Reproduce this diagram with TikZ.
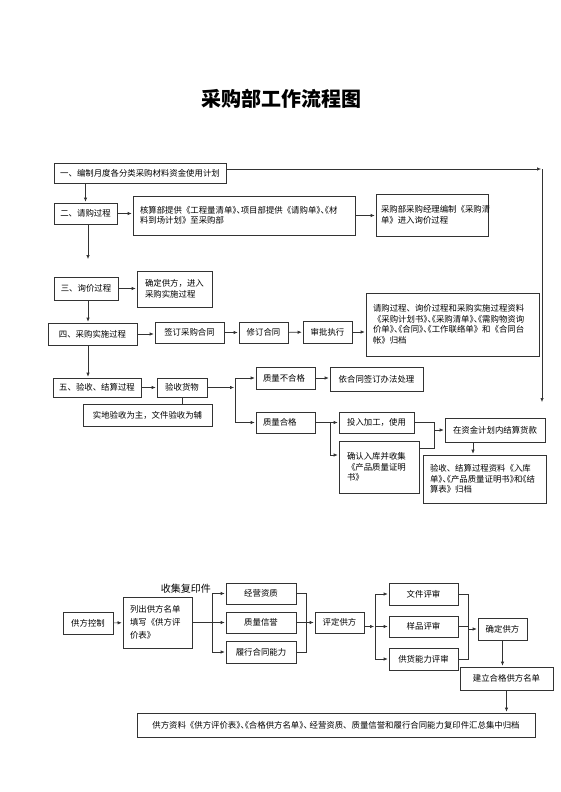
\documentclass[tikz,border=0pt]{standalone}
\usepackage{fontspec}
\usepackage{tikz}
\usetikzlibrary{positioning,arrows.meta}
\newfontfamily\cjk{Noto Sans CJK SC}
\newfontfamily\cjkhw[RawFeature=+halt]{Noto Sans CJK SC}
\newcommand{\hw}[1]{{\cjkhw #1}}

\begin{document}
\begin{tikzpicture}[x=1pt,y=-1pt]
\tikzstyle{every node}+=[inner sep=0pt]
\tikzstyle{box}=[draw=black!80, line width=0.6pt, fill=white, font=\cjk\fontsize{8.4}{10.5}\selectfont, align=center]
\tikzstyle{para}=[box, align=left, inner xsep=7pt]
\tikzstyle{line}=[draw=black!80, line width=0.6pt]
\tikzstyle{arr}=[line, -{Latex[length=4pt,width=3.4pt]}, shorten >=1pt]
\useasboundingbox (0,0) rectangle (560,792);
\node[font=\cjk\bfseries\fontsize{20}{24}\selectfont] (title) at (281,99) {采购部工作流程图};
% purchasing steps
\node[box, minimum width=172pt, minimum height=20pt] (plan) at (140,173) {一、编制月度各分类采购材料资金使用计划};
\node[box, minimum width=63pt, minimum height=21pt] (req) at (85.5,213.5) {二、请购过程};
\node[para, text width=208pt, minimum height=39pt] (calc) at (244,215.5) {核算部提供《工程量清单\hw{》、}项目部提供《请购单\hw{》、《}材\\料到场计划》至采购部};
\node[para, inner xsep=5pt, text width=102pt, minimum height=42pt] (mgr) at (432,215) {采购部采购经理编制《采购清\\单》进入询价过程};
\node[box, minimum width=64pt, minimum height=23pt] (inq) at (86,288.5) {三、询价过程};
\node[para, inner xsep=8pt, text width=59pt, minimum height=36pt] (conf) at (174.5,289) {确定供方，进入\\采购实施过程};
\node[box, minimum width=89pt, minimum height=22pt] (impl) at (92.5,334) {四、采购实施过程};
\node[box, minimum width=69pt, minimum height=21pt] (sign) at (189.5,332.5) {签订采购合同};
\node[box, minimum width=49pt, minimum height=21pt] (rev) at (263.5,332.5) {修订合同};
\node[box, minimum width=49pt, minimum height=22pt] (appr) at (327.5,332) {审批执行};
\node[para, text width=159pt, minimum height=63pt] (arch) at (452.5,324.5) {请购过程、询价过程和采购实施过程资料\\《采购计划书\hw{》、《}采购清单\hw{》、《}需购物资询\\价单\hw{》、《}合同\hw{》、《}工作联络单》和《合同台\\帐》归档};
\node[box, minimum width=88pt, minimum height=19pt] (recv) at (97,387.5) {五、验收、结算过程};
\node[box, minimum width=50pt, minimum height=19pt] (goods) at (182,387.5) {验收货物};
\node[box, minimum width=129pt, minimum height=22pt] (onsite) at (147.5,415) {实地验收为主，文件验收为辅};
\node[para, text width=45pt, minimum height=22pt] (bad) at (285.5,378) {质量不合格};
\node[box, minimum width=93pt, minimum height=24pt] (handle) at (376.5,379) {依合同签订办法处理};
\node[para, text width=45pt, minimum height=21pt] (good) at (285.5,422.5) {质量合格};
\node[box, minimum width=75pt, minimum height=21pt] (use) at (376.5,422.5) {投入加工，使用};
\node[para, inner xsep=8pt, text width=64pt, minimum height=52pt] (stock) at (379,467) {确认入库并收集\\《产品质量证明\\书》};
\node[box, minimum width=100pt, minimum height=24pt] (pay) at (495,430) {在资金计划内结算货款};
\node[para, text width=109pt, minimum height=48pt] (settle) at (484.5,479) {验收、结算过程资料《入库\\单\hw{》、《}产品质量证明书\hw{》}和\hw{《}结\\算表》归档};
% supplier control
\node[box, minimum width=50pt, minimum height=22pt] (ctrl) at (88,623) {供方控制};
\node[para, text width=55pt, minimum height=51pt, font=\cjk\fontsize{8.4}{13}\selectfont] (list) at (157.5,622.5) {列出供方名单\\填写《供方评\\价表》};
\node[box, minimum width=70pt, minimum height=21pt] (qual1) at (261,593.5) {经营资质};
\node[box, minimum width=70pt, minimum height=21pt] (qual2) at (261,622.5) {质量信誉};
\node[box, minimum width=70pt, minimum height=22pt] (qual3) at (261,652) {履行合同能力};
\node[font=\cjk\fontsize{10}{12}\selectfont, anchor=east] (copy) at (211,589) {收集复印件};
\node[box, minimum width=49pt, minimum height=21pt] (eval) at (339.5,622.5) {评定供方};
\node[box, minimum width=69pt, minimum height=22pt] (doc) at (423.5,594) {文件评审};
\node[box, minimum width=69pt, minimum height=21pt] (samp) at (423.5,626.5) {样品评审};
\node[box, minimum width=69pt, minimum height=22pt] (cap) at (423.5,659) {供货能力评审};
\node[box, minimum width=49pt, minimum height=22pt] (pick) at (502.5,629) {确定供方};
\node[box, minimum width=93pt, minimum height=23pt] (qlist) at (506.5,678.5) {建立合格供方名单};
\node[box, minimum width=398pt, minimum height=24pt] (file) at (336,725) {供方资料《供方评价表\hw{》、《}合格供方名单\hw{》、} 经营资质、质量信誉和履行合同能力复印件汇总集中归档};
% junctions
\coordinate (tr) at (542,169);
\coordinate (trend) at (542,403);
\coordinate (inqtop) at (88,260);
\coordinate (qj) at (235,387.5);
\coordinate (gj) at (330,422.5);
\coordinate (sj) at (330,455);
\coordinate (pj) at (434,430);
\coordinate (pjb) at (434,448);
\coordinate (stx) at (473,0);
\coordinate (cj) at (212,622.5);
\coordinate (ej) at (306,622.5);
\coordinate (sj2) at (375,626.5);
\coordinate (kj) at (468,629);
% connectors
\draw[arr] (plan.east |- tr) -- (tr);
\draw[arr] (tr) -- (trend);
\draw[arr] (plan.south -| req.north) -- (req.north);
\draw[arr] (req.east) -- (req.east -| calc.west);
\draw[arr] (calc.east) -- (calc.east -| mgr.west);
\draw[arr] (req.south -| inqtop) -- (inqtop);
\draw[arr] (inq.east) -- (inq.east -| conf.west);
\draw[arr] (inq.south -| inqtop) -- (impl.north -| inqtop);
\draw[arr] (impl.east) -- (impl.east -| sign.west);
\draw[arr] (sign) -- (rev);
\draw[arr] (rev) -- (appr);
\draw[arr] (appr.east) -- (appr.east -| arch.west);
\draw[arr] (impl.south -| inqtop) -- (recv.north -| inqtop);
\draw[arr] (recv) -- (goods);
\draw[line] (goods.south) -- (goods.south |- onsite.north);
\draw[arr] (goods.east) -- (qj);
\draw[arr] (qj) |- (bad.west);
\draw[arr] (qj) |- (good.west);
\draw[arr] (bad.east) -- (bad.east -| handle.west);
\draw[line] (good.east) -- (gj);
\draw[arr] (gj) -- (use.west);
\draw[arr] (gj) -- (sj) -- (stock.west |- sj);
\draw[line] (use.east) -| (pj);
\draw[line] (stock.east |- pjb) -- (pjb) -- (pj);
\draw[arr] (pj) -- (pay.west);
\draw[arr] (pay.south -| stx) -- (settle.north -| stx);
\draw[arr] (ctrl) -- (list);
\draw[line] (list.east) -- (cj);
\draw[arr] (cj) |- (qual1.west);
\draw[arr] (cj) -- (qual2.west);
\draw[arr] (cj) |- (qual3.west);
\draw[line] (qual1.east) -| (ej);
\draw[line] (qual3.east) -| (ej);
\draw[arr] (qual2) -- (eval);
\draw[arr] (eval.east |- sj2) -- (sj2);
\draw[arr] (sj2) |- (doc.west);
\draw[arr] (sj2) -- (samp.west);
\draw[arr] (sj2) |- (cap.west);
\draw[line] (doc.east) -| (kj);
\draw[line] (cap.east) -| (kj);
\draw[line] (samp.east) -- (samp.east -| kj);
\draw[arr] (kj) -- (pick.west);
\draw[arr] (pick.south) -- (pick.south |- qlist.north);
\draw[arr] (qlist.south) -- (qlist.south |- file.north);
\end{tikzpicture}
\end{document}
